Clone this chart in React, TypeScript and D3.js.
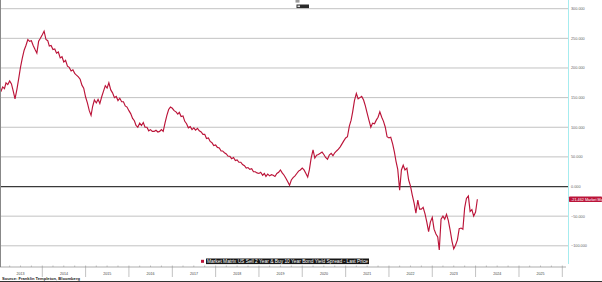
import React from "react";
import * as d3 from "d3";

const W = 602;
const H = 282;

const years = [2013, 2014, 2015, 2016, 2017, 2018, 2019, 2020, 2021, 2022, 2023, 2024, 2025];
const yTicks = [300, 250, 200, 150, 100, 50, 0, -50, -100];

const seriesName = "Market Matrix US Sell 2 Year & Buy 10 Year Bond Yield Spread - Last Price";
const lastLabel = "-21.462 Market Ma";
const sourceText = "Source: Franklin Templeton, Bloomberg";

// Semi-monthly readings (1st and 16th of each month); 2013 starts on Jan 16.
const v2013 = [160, 168, 165, 175, 172, 178, 173, 161, 148, 164, 182, 201, 216, 230, 238, 248, 245, 246, 238, 231, 225, 245, 250];
const v2014 = [256, 262, 248, 246, 237, 238, 231, 232, 225, 227, 217, 219, 210, 213, 203, 201, 195, 197, 191, 188, 185, 181, 171, 166];
const v2015 = [151, 141, 128, 120, 135, 146, 141, 147, 140, 151, 161, 170, 166, 175, 163, 158, 150, 152, 145, 149, 143, 143, 136, 134];
const v2016 = [128, 123, 115, 111, 103, 100, 107, 103, 108, 100, 100, 94, 96, 93, 93, 95, 92, 93, 96, 93, 108, 120, 130, 134];
const v2017 = [132, 128, 126, 122, 125, 118, 119, 110, 106, 99, 101, 96, 99, 95, 98, 94, 92, 88, 88, 81, 82, 76, 74, 69];
const v2018 = [70, 66, 65, 60, 60, 57, 55, 51, 51, 47, 49, 44, 45, 41, 41, 37, 35, 31, 32, 29, 30, 25, 25, 23];
const v2019 = [22, 24, 19, 22, 17, 21, 18, 20, 19, 17, 22, 24, 28, 23, 19, 14, 8, 2, 11, 15, 18, 22, 26, 28];
const v2020 = [31, 28, 22, 16, 28, 48, 62, 48, 53, 54, 56, 58, 54, 49, 46, 53, 56, 52, 57, 60, 63, 67, 72, 77];
const v2021 = [82, 84, 102, 112, 126, 145, 157, 148, 150, 152, 146, 136, 124, 112, 100, 107, 106, 112, 117, 126, 117, 110, 100, 84];
const v2022 = [82, 83, 72, 58, 43, 29, -6, 28, 36, 28, 31, 11, 1, -14, -28, -45, -23, -38, -38, -35, -46, -60, -76, -60];
const v2023 = [-52, -72, -80, -85, -107, -55, -50, -55, -47, -57, -74, -92, -105, -99, -90, -71, -70, -72, -36, -20, -16, -42, -39, -50];
const v2024 = [-43, -21.462];

const yearSeries: [number, number, number[]][] = [
  [2013, 1, v2013],
  [2014, 0, v2014],
  [2015, 0, v2015],
  [2016, 0, v2016],
  [2017, 0, v2017],
  [2018, 0, v2018],
  [2019, 0, v2019],
  [2020, 0, v2020],
  [2021, 0, v2021],
  [2022, 0, v2022],
  [2023, 0, v2023],
  [2024, 0, v2024],
];

type Pt = { date: Date; value: number };
const data: Pt[] = [];
yearSeries.forEach(([yr, off, vals]) => {
  vals.forEach((v, i) => {
    const j = i + off;
    data.push({ date: new Date(yr, Math.floor(j / 2), j % 2 ? 16 : 1), value: v });
  });
});

const RED = "#bb1439";

export default function App() {
  const plotRight = 568.5;
  const axisY = 267;
  const x = d3.scaleTime().domain([new Date(2013, 0, 1), new Date(2026, 0, 1)]).range([-1, 562.3]);
  const y = d3.scaleLinear().domain([-100, 300]).range([245.8, 8.7]);
  const line = d3
    .line<Pt>()
    .x((d) => x(d.date))
    .y((d) => y(d.value));
  const last = data[data.length - 1];
  const quarters = d3.timeMonth.every(3)!.range(new Date(2013, 0, 1), new Date(2026, 3, 1));
  const fmt = d3.format(".3f");
  const font = "'Liberation Sans', Arial, sans-serif";

  return (
    <svg
      width={W}
      height={H}
      style={{ position: "fixed", left: 0, top: 0, background: "#fff" }}
      fontFamily={font}
    >
      <defs>
        <clipPath id="plot">
          <rect x={0} y={0} width={plotRight} height={axisY} />
        </clipPath>
      </defs>
      <rect x={0} y={0} width={W} height={H} fill="#fff" />
      {yTicks.map((t) => (
        <line
          key={t}
          x1={0}
          x2={plotRight}
          y1={y(t)}
          y2={y(t)}
          stroke={t === 0 ? "#3a3a3a" : "#c2c2c2"}
          strokeWidth={t === 0 ? 1.2 : 1}
        />
      ))}
      <line x1={plotRight} x2={plotRight} y1={0} y2={264} stroke="#a6ecef" strokeWidth={1} />
      {yTicks.map((t) => (
        <text key={"l" + t} x={571} y={y(t) + 1.4} fontSize={3.8} fill="#666">
          {fmt(t)}
        </text>
      ))}
      <path
        d={line(data) || ""}
        fill="none"
        stroke={RED}
        strokeWidth={1.15}
        strokeLinejoin="miter"
        clipPath="url(#plot)"
      />
      <rect x={569} y={y(last.value) - 2.7} width={33} height={5.4} fill={RED} rx={0.8} />
      <text x={571} y={y(last.value) + 1.3} fontSize={3.8} fill="#fff">
        {lastLabel}
      </text>
      <line x1={0.5} x2={0.5} y1={0} y2={axisY} stroke="#888" strokeWidth={1} />
      <rect x={295.5} y={0} width={4} height={2.6} fill="#9a9a9a" />
      <rect x={296.5} y={4.5} width={12.5} height={3.6} fill="#2a2a2a" />
      <rect x={297.5} y={5.5} width={2.5} height={1.6} fill="#ddd" />
      <rect x={201} y={259.8} width={3} height={3} fill={RED} />
      <rect x={206} y={258.5} width={163} height={5.6} fill="#161616" />
      <text x={207} y={262.8} fontSize={4.6} fill="#fff" textLength={161} lengthAdjust="spacingAndGlyphs">
        {seriesName}
      </text>
      <line x1={0} x2={566} y1={axisY} y2={axisY} stroke="#777" strokeWidth={0.6} />
      {quarters.map((q, i) => (
        <line key={"q" + i} x1={x(q)} x2={x(q)} y1={axisY - 1.5} y2={axisY} stroke="#888" strokeWidth={0.5} />
      ))}
      {years.map((yr) => (
        <line
          key={"d" + yr}
          x1={x(new Date(yr + 1, 0, 1))}
          x2={x(new Date(yr + 1, 0, 1))}
          y1={axisY}
          y2={277}
          stroke="#999"
          strokeWidth={0.6}
        />
      ))}
      {years.map((yr) => (
        <text
          key={"y" + yr}
          x={x(new Date(yr, 6, 2))}
          y={274.5}
          fontSize={3.6}
          fill="#444"
          textAnchor="middle"
        >
          {yr}
        </text>
      ))}
      <text x={2} y={280} fontSize={4} fontWeight="bold" fill="#222" textLength={78} lengthAdjust="spacingAndGlyphs">
        {sourceText}
      </text>
      <line x1={0} x2={W} y1={281.5} y2={281.5} stroke="#333" strokeWidth={1} />
    </svg>
  );
}
